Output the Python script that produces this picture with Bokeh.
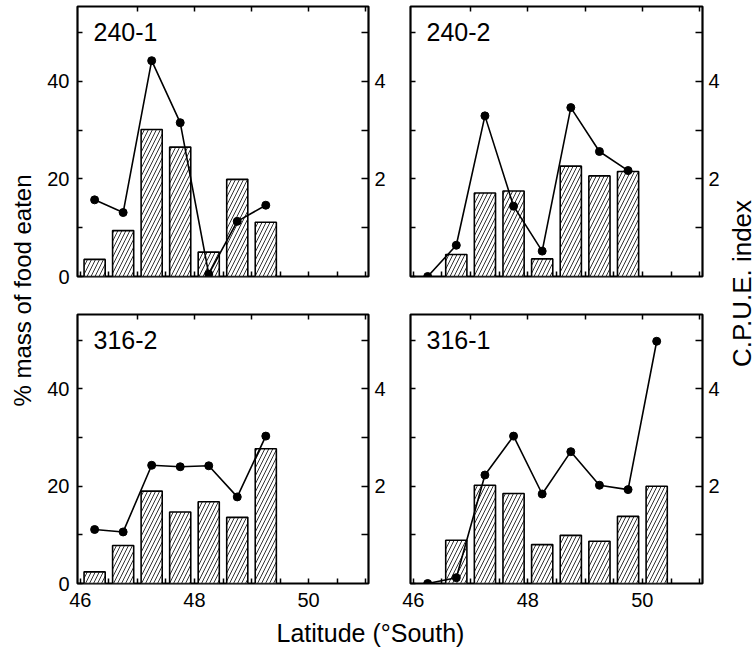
import math
from bokeh.plotting import figure
from bokeh.models import Range1d, LinearAxis, FixedTicker, Label
from bokeh.layouts import row, column
from bokeh.embed import file_html
from bokeh.resources import INLINE
from bokeh.core.properties import value

FONT = "Liberation Sans"

# ---- data ----
latitude = [46.25, 46.75, 47.25, 47.75, 48.25, 48.75, 49.25, 49.75, 50.25]

food_240_1 = [3.5, 9.4, 30.1, 26.5, 5.0, 19.9, 11.1]
cpue_240_1 = [1.57, 1.31, 4.42, 3.15, 0.05, 1.13, 1.46]

food_240_2 = [0.0, 4.5, 17.1, 17.5, 3.6, 22.6, 20.6, 21.5]
cpue_240_2 = [0.0, 0.64, 3.29, 1.44, 0.52, 3.46, 2.56, 2.17]

food_316_2 = [2.4, 7.8, 19.0, 14.7, 16.8, 13.6, 27.7]
cpue_316_2 = [1.11, 1.06, 2.43, 2.40, 2.42, 1.78, 3.03]

food_316_1 = [0.0, 8.9, 20.2, 18.5, 8.0, 9.9, 8.7, 13.8, 20.0]
cpue_316_1 = [0.0, 0.12, 2.23, 3.03, 1.84, 2.71, 2.02, 1.93, 4.98]

x_ticks = [46, 48, 50]
x_minor = [46.5, 47, 47.5, 48.5, 49, 49.5, 50.5, 51]
x_top_ticks = [47, 48, 49, 50, 51]
food_ticks = [0, 20, 40]
food_minor = [10, 30, 50]
cpue_ticks = [2, 4]
cpue_minor = [1, 3, 5]

X_RANGE = (45.95, 51.05)
FOOD_MAX = 55.3
CPUE_MAX = 5.53


def style_axis(ax, tick_len=6):
    ax.axis_line_color = None
    ax.major_tick_out = 0
    ax.minor_tick_out = 0
    ax.major_tick_in = tick_len
    ax.minor_tick_in = tick_len
    ax.major_tick_line_width = 1.5
    ax.minor_tick_line_width = 1.5
    ax.major_tick_line_color = "black"
    ax.minor_tick_line_color = "black"
    ax.major_label_text_font = FONT
    ax.major_label_text_color = "black"
    ax.major_label_text_font_size = "20px"


def panel(name, food, cpue, width, height, mb_left, mb_right, mb_top, mb_bottom,
          left_labels, bottom_labels):
    p = figure(width=width, height=height, title=None,
               x_range=Range1d(*X_RANGE), y_range=Range1d(0, FOOD_MAX),
               x_axis_location=None, y_axis_location=None,
               output_backend="svg", toolbar_location=None)
    p.extra_y_ranges = {"cpue": Range1d(0, CPUE_MAX)}
    p.min_border_left = mb_left
    p.min_border_right = mb_right
    p.min_border_top = mb_top
    p.min_border_bottom = mb_bottom
    p.grid.grid_line_color = None
    p.outline_line_color = "black"
    p.outline_line_width = 2.2
    p.background_fill_color = "white"
    p.border_fill_color = "white"

    if bottom_labels:
        bt = FixedTicker(ticks=x_ticks, minor_ticks=x_minor)
    else:
        bt = FixedTicker(ticks=[], minor_ticks=sorted(x_ticks + x_minor))
    bottom = LinearAxis(ticker=bt)
    style_axis(bottom, tick_len=5)
    bottom.major_label_standoff = 9
    p.add_layout(bottom, "below")

    top = LinearAxis(ticker=FixedTicker(ticks=[], minor_ticks=x_top_ticks))
    style_axis(top, tick_len=5)
    top.major_label_standoff = 0
    p.add_layout(top, "above")

    if left_labels:
        lt = FixedTicker(ticks=food_ticks, minor_ticks=food_minor)
    else:
        lt = FixedTicker(ticks=[], minor_ticks=sorted(food_ticks + food_minor))
    left = LinearAxis(ticker=lt)
    style_axis(left, tick_len=5)
    left.major_label_standoff = 8 if left_labels else 0
    p.add_layout(left, "left")

    right = LinearAxis(y_range_name="cpue",
                       ticker=FixedTicker(ticks=cpue_ticks, minor_ticks=cpue_minor))
    style_axis(right, tick_len=7)
    right.major_label_standoff = 6
    p.add_layout(right, "right")

    n_bar = len(food)
    bx = [latitude[i] for i in range(n_bar) if food[i] > 0]
    btop = [food[i] for i in range(n_bar) if food[i] > 0]
    p.vbar(x=bx, top=btop, bottom=0, width=0.37, fill_color="white",
           line_color="black", line_width=1.6,
           hatch_pattern="/", hatch_color="black", hatch_scale=8, hatch_weight=0.8)

    lx = latitude[:len(cpue)]
    p.line(lx, cpue, y_range_name="cpue", line_color="black", line_width=1.6)
    p.scatter(lx, cpue, y_range_name="cpue", size=8, marker="circle",
              fill_color="black", line_color="black")

    p.add_layout(Label(x=46.23, y=50.0, text=name, text_font=FONT,
                       text_font_size="25px", text_color="black",
                       text_baseline="alphabetic", text_align="left"))
    return p


LS_W = 38
L_W, R_W = 355, 329
RS_W = 756 - LS_W - L_W - R_W
T_H, B_H, BS_H = 296, 322, 30

tl = panel("240-1", food_240_1, cpue_240_1, L_W, T_H, 39, 25, 6, 20, True, False)
tr = panel("240-2", food_240_2, cpue_240_2, R_W, T_H, 17, 20, 6, 20, False, False)
bl = panel("316-2", food_316_2, cpue_316_2, L_W, B_H, 39, 25, 18, 35, True, True)
br = panel("316-1", food_316_1, cpue_316_1, R_W, B_H, 17, 20, 18, 35, False, True)


def strip(width, height, text, x, y, angle, size):
    s = figure(width=width, height=height, title=None,
               x_range=Range1d(0, width), y_range=Range1d(0, height),
               x_axis_location=None, y_axis_location=None,
               output_backend="svg", toolbar_location=None, min_border=0)
    s.outline_line_color = None
    s.grid.grid_line_color = None
    s.background_fill_color = "white"
    s.border_fill_color = "white"
    s.text(x=[x], y=[y], text=[text], angle=angle, text_font=value(FONT),
           text_font_size=size, text_color="black",
           text_align="center", text_baseline="middle")
    return s


TOTAL_H = T_H + B_H + BS_H
bottom_strip = strip(L_W + R_W, BS_H, "Latitude (°South)", 332, 16, 0, "25px")
left_strip = strip(LS_W, TOTAL_H, "% mass of food eaten", 22, TOTAL_H - 290, math.pi / 2, "24px")
right_strip = strip(RS_W, TOTAL_H, "C.P.U.E. index", 19, TOTAL_H - 283, math.pi / 2, "26px")

layout = row(left_strip,
             column(row(tl, tr), row(bl, br), bottom_strip),
             right_strip)

open("out.html", "w").write(file_html(layout, INLINE))
